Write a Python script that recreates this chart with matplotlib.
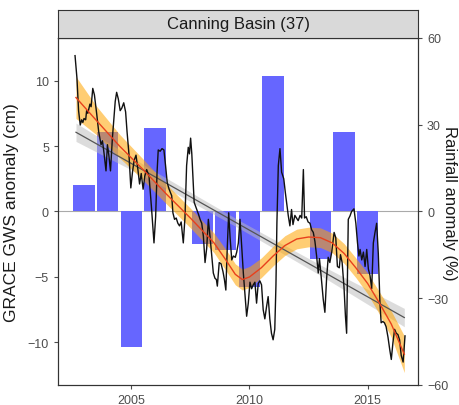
import numpy as np
import matplotlib
matplotlib.use("Agg")
import matplotlib.pyplot as plt

plt.rcParams["font.family"] = ["Liberation Sans", "DejaVu Sans"]

# annual rainfall anomaly (%), one bar per year
rain_years = [2003, 2004, 2005, 2006, 2007, 2008, 2009, 2010, 2011, 2012, 2013, 2014, 2015]
rain_anom = [9.0, 27.5, -46.7, 28.8, 0.0, -11.4, -13.2, -26.0, 47.0, 0.0, -16.6, 27.4, -21.5]

# GRACE groundwater storage anomaly (cm)
gws_t = [
    2002.62, 2002.70, 2002.77, 2002.84, 2002.90, 2002.95, 2003.00, 2003.07, 2003.11, 2003.16,
    2003.25, 2003.30, 2003.37, 2003.44, 2003.54, 2003.62, 2003.72, 2003.78, 2003.85, 2003.93,
    2003.99, 2004.05, 2004.12, 2004.20, 2004.32, 2004.38, 2004.45, 2004.53, 2004.60, 2004.68,
    2004.76, 2004.82, 2004.90, 2004.98, 2005.05, 2005.12, 2005.20, 2005.28, 2005.35, 2005.42,
    2005.50, 2005.57, 2005.65, 2005.75, 2005.85, 2005.96, 2006.03, 2006.09, 2006.14, 2006.22,
    2006.30, 2006.38, 2006.45, 2006.52, 2006.60, 2006.71, 2006.76, 2006.83, 2006.90, 2006.97,
    2007.04, 2007.11, 2007.20, 2007.27, 2007.34, 2007.41, 2007.46, 2007.51, 2007.56, 2007.62,
    2007.66, 2007.77, 2007.84, 2007.91, 2007.98, 2008.05, 2008.12, 2008.19, 2008.26, 2008.33,
    2008.40, 2008.47, 2008.54, 2008.60, 2008.64, 2008.72, 2008.80, 2008.88, 2008.94, 2009.00,
    2009.06, 2009.12, 2009.18, 2009.25, 2009.32, 2009.40, 2009.46, 2009.53, 2009.60, 2009.67,
    2009.74, 2009.81, 2009.88, 2009.95, 2010.02, 2010.09, 2010.16, 2010.23, 2010.30, 2010.37,
    2010.44, 2010.51, 2010.58, 2010.65, 2010.72, 2010.79, 2010.86, 2010.93, 2011.00, 2011.07,
    2011.12, 2011.16, 2011.22, 2011.29, 2011.36, 2011.45, 2011.52, 2011.57, 2011.64, 2011.71,
    2011.78, 2011.84, 2011.92, 2011.99, 2012.06, 2012.14, 2012.21, 2012.28, 2012.33, 2012.40,
    2012.48, 2012.56, 2012.63, 2012.70, 2012.77, 2012.84, 2012.91, 2012.96, 2013.03, 2013.12,
    2013.19, 2013.26, 2013.33, 2013.40, 2013.48, 2013.58, 2013.65, 2013.72, 2013.80, 2013.85,
    2013.92, 2014.00, 2014.06, 2014.11, 2014.18, 2014.25, 2014.32, 2014.42, 2014.50, 2014.57,
    2014.63, 2014.68, 2014.75, 2014.82, 2014.89, 2014.96, 2015.03, 2015.10, 2015.17, 2015.24,
    2015.31, 2015.38, 2015.45, 2015.52, 2015.57, 2015.64, 2015.71, 2015.78, 2015.86, 2015.93,
    2016.00, 2016.07, 2016.14, 2016.21, 2016.28, 2016.35, 2016.42, 2016.50, 2016.58,
]
gws_v = [
    11.9, 10.2, 7.7, 6.6, 7.0, 6.8, 7.1, 7.0, 7.7, 7.5,
    8.2, 8.0, 9.4, 8.9, 7.4, 6.1, 5.1, 5.4, 4.4, 3.1,
    5.1, 4.3, 3.1, 5.6, 8.4, 9.1, 8.6, 7.7, 7.9, 8.3,
    7.6, 6.1, 4.4, 1.8, 3.0, 3.9, 4.3, 3.2, 2.1, 2.9,
    1.7, 2.7, 3.2, 2.7, 0.4, -2.4, -0.4, 3.0, 4.7, 4.6,
    4.8, 4.7, 3.5, 2.2, 1.7, 1.2, -0.1, -0.6, -0.5, -0.9,
    -1.1, -0.8, -2.4, -0.5, 3.5, 4.9, 4.4, 5.6, 4.4, 2.2,
    0.7, 0.15, -0.2, -0.6, -0.9, -1.9, -3.9, -2.8, -0.6, -1.9,
    -3.3, -4.7, -5.1, -5.2, -5.7, -3.9, -4.0, -4.6, -5.2, -6.0,
    -2.8, -0.1, -2.0, -3.7, -3.4, -3.5, -3.1, -2.4, -0.6, -2.7,
    -4.7, -6.3, -8.0, -7.0, -5.4, -5.9, -5.6, -5.4, -7.0, -5.5,
    -5.3, -5.6, -7.5, -8.2, -7.3, -6.5, -8.2, -9.3, -9.8, -9.0,
    -5.6, -0.9, 3.5, 4.8, 3.0, 2.5, 1.4, 0.7, -0.3, -1.1,
    0.15, -1.0, -0.3, -0.5, -0.7, -0.3, -0.5, 3.2, -0.5, -0.4,
    -0.8, -0.9, -1.4, -1.6, -2.3, -3.4, -4.7, -3.6, -4.9, -6.7,
    -7.7, -5.2, -3.5, -3.9, -3.1, -1.6, -2.0, -4.2, -4.3, -3.3,
    -3.9, -5.8, -8.0, -9.3, -0.6, -0.35, 0.0, 0.2, -0.9, -2.4,
    -3.4, -2.9, -3.7, -3.1, -4.2, -2.9, -4.4, -4.9, -5.9, -2.4,
    -1.6, -0.9, -3.2, -7.0, -8.5, -8.4, -8.5, -8.8, -9.6, -10.5,
    -11.3, -10.0, -9.0, -9.3, -9.4, -9.8, -11.0, -11.5, -9.5,
]

# loess smooth and its confidence half-width (cm)
loess_t = [2002.66, 2003.5, 2004.5, 2005.5, 2006.5, 2007.5, 2008.5, 2009.0, 2009.4, 2009.7,
           2010.0, 2010.5, 2011.0, 2011.5, 2012.0, 2012.5, 2013.0, 2013.5, 2014.0, 2014.5,
           2015.0, 2015.5, 2016.0, 2016.55]
loess_v = [8.7, 7.0, 5.0, 3.2, 1.3, -0.5, -2.4, -3.7, -4.8, -5.2,
           -5.0, -4.3, -3.4, -2.6, -2.1, -1.95, -2.0, -2.4, -3.2, -4.3,
           -5.5, -7.0, -8.6, -10.9]
loess_se = [1.6, 1.1, 0.9, 0.8, 0.75, 0.75, 0.75, 0.8, 0.8, 0.8,
            0.8, 0.75, 0.75, 0.75, 0.75, 0.75, 0.75, 0.75, 0.75, 0.75,
            0.8, 0.85, 1.0, 1.4]

# linear trend and its confidence half-width (cm)
trend_t = [2002.66, 2006.0, 2009.6, 2013.0, 2016.55]
trend_v = [6.05, 2.65, -1.02, -4.48, -8.1]
trend_se = [0.7, 0.4, 0.3, 0.4, 0.7]

fig = plt.figure(figsize=(4.59, 4.06), dpi=100)
ax = fig.add_axes([0.1264, 0.0493, 0.7843, 0.8547])
ax2 = ax.twinx()
ax2.set_zorder(ax.get_zorder() - 1)
ax.patch.set_visible(False)

ax2.bar(rain_years, rain_anom, width=0.9, color="#6666FF", zorder=2)
ax2.axhline(0, color="#AAAAAA", lw=0.8, zorder=1)

ax.fill_between(trend_t, np.array(trend_v) - trend_se, np.array(trend_v) + trend_se,
                color="#BBBBBB", alpha=0.5, lw=0)
ax.plot(trend_t, trend_v, color="#555555", lw=0.9)
ax.fill_between(loess_t, np.array(loess_v) - loess_se, np.array(loess_v) + loess_se,
                color="#FFA500", alpha=0.55, lw=0)
ax.plot(gws_t, gws_v, color="#111111", lw=1.0)
ax.plot(loess_t, loess_v, color="#E8401C", lw=1.0)

ax.set_xlim(2001.9, 2017.13)
ax.set_ylim(-13.25, 13.25)
ax2.set_ylim(-60, 60)
ax.set_xticks([2005, 2010, 2015])
ax.set_yticks([-10, -5, 0, 5, 10])
ax2.set_yticks([-60, -30, 0, 30, 60])

for a in (ax, ax2):
    a.tick_params(colors="#4D4D4D", labelsize=9, length=3, width=0.8)
    for s in a.spines.values():
        s.set_color("#333333")
        s.set_linewidth(0.8)

ax.set_ylabel("GRACE GWS anomaly (cm)", fontsize=12.5, color="#1A1A1A", labelpad=6)
fig.text(449 / 459, 0.5, "Rainfall anomaly (%)", fontsize=12, color="#1A1A1A",
         rotation=270, ha="center", va="center")

# facet strip
strip = fig.add_axes([0.1264, 0.904, 0.7843, 0.069])
strip.set_facecolor("#D9D9D9")
strip.set_xticks([])
strip.set_yticks([])
for s in strip.spines.values():
    s.set_color("#333333")
    s.set_linewidth(0.8)
strip.text(0.5, 0.5, "Canning Basin (37)", ha="center", va="center",
           fontsize=12, color="#1A1A1A", transform=strip.transAxes)

fig.savefig("out.png", dpi=100)
